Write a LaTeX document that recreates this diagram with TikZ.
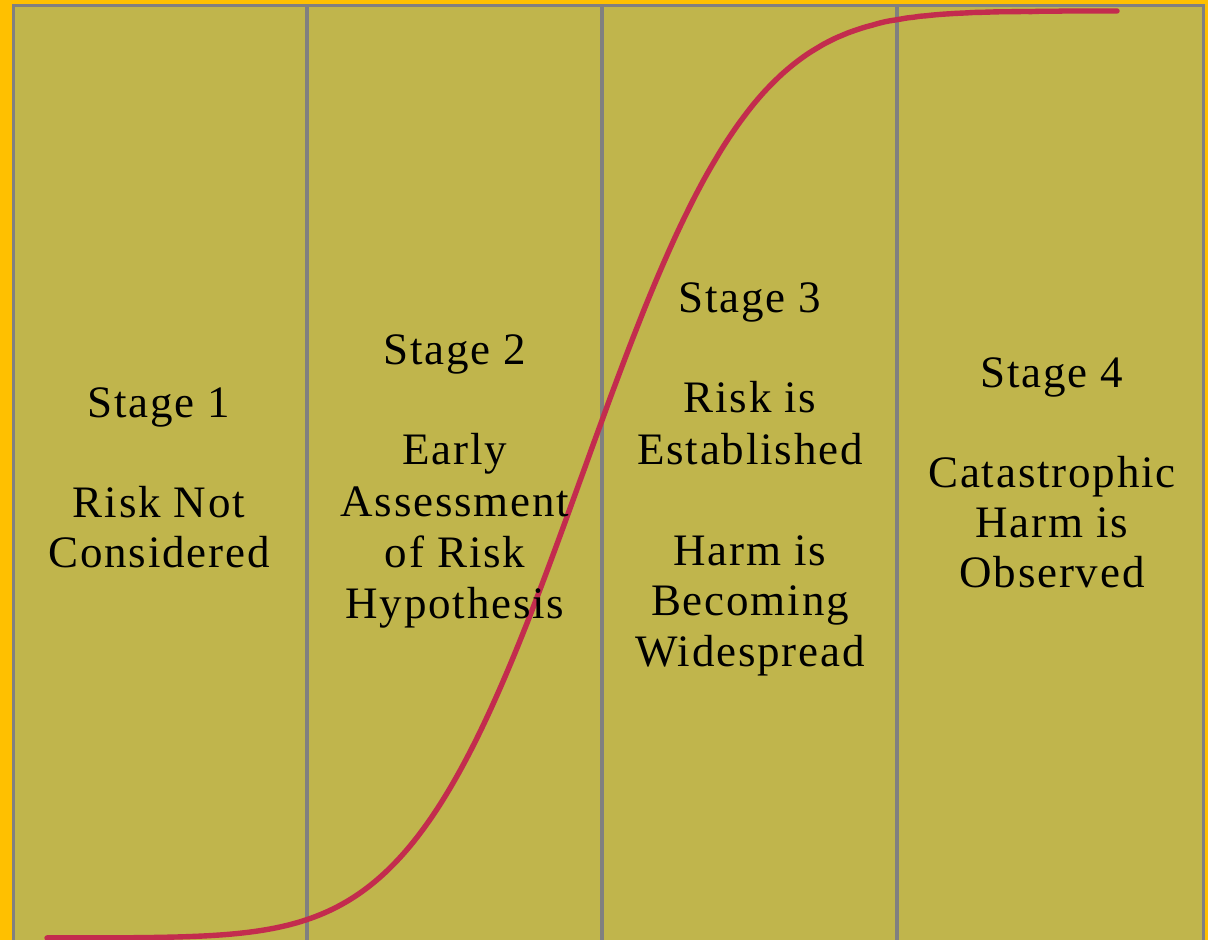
\documentclass[tikz,border=0pt]{standalone}
\usepackage{fontspec}
\setmainfont{Liberation Serif}
\newfontfamily\stagefont[LetterSpace=4.0]{Liberation Serif}
\definecolor{bgorange}{RGB}{255,192,0}
\definecolor{panelfill}{RGB}{192,181,76}
\definecolor{panelline}{RGB}{128,128,128}
\definecolor{curvecol}{RGB}{195,44,78}
\begin{document}
\begin{tikzpicture}[x=0.5pt,y=-0.5pt,
  declare function={zz(\t)=(\t-582.3)/133.9;
    uu(\t)=1.5976*zz(\t)+0.070566*zz(\t)*zz(\t)*zz(\t);
    phi(\t)=1/(1+exp(-max(uu(\t),-9.5)));},
  panel/.style={fill=panelfill,draw=panelline,line width=1.8pt},
  curve/.style={draw=curvecol,line width=2.7pt,line cap=round},
  lbl/.style={anchor=base,inner sep=0pt,font=\stagefont\fontsize{22.5}{25}\selectfont,text=black}]
\useasboundingbox (0,0) rectangle (1208,940);
\fill[bgorange] (0,0) rectangle (1208,940);
% panels
\draw[panel] (13.5,5.5) rectangle (307,950);
\draw[panel] (307,5.5) rectangle (602,950);
\draw[panel] (602,5.5) rectangle (897,950);
\draw[panel] (897,5.5) rectangle (1203.5,950);
% S-curve
\draw[curve] plot[domain=47:1117,samples=180,smooth] (\x,{938-927*phi(\x)});
% Stage 1
\node[lbl] (s1a) at (159,417) {Stage 1};
\node[lbl] (s1b) at (159,517) {Risk Not};
\node[lbl] (s1c) at (159,567) {Considered};
% Stage 2
\node[lbl] (s2a) at (455,365) {Stage 2};
\node[lbl] (s2b) at (455,465) {Early};
\node[lbl] (s2c) at (455,516) {Assessment};
\node[lbl] (s2d) at (455,567) {of Risk};
\node[lbl] (s2e) at (455,618) {Hypothesis};
% Stage 3
\node[lbl] (s3a) at (750,313) {Stage 3};
\node[lbl] (s3b) at (750,413) {Risk is};
\node[lbl] (s3c) at (750,464) {Established};
\node[lbl] (s3d) at (750,565) {Harm is};
\node[lbl] (s3e) at (750,615) {Becoming};
\node[lbl] (s3f) at (750,666) {Widespread};
% Stage 4
\node[lbl] (s4a) at (1052,388) {Stage 4};
\node[lbl] (s4b) at (1052,487) {Catastrophic};
\node[lbl] (s4c) at (1052,537) {Harm is};
\node[lbl] (s4d) at (1052,587) {Observed};
\end{tikzpicture}
\end{document}
